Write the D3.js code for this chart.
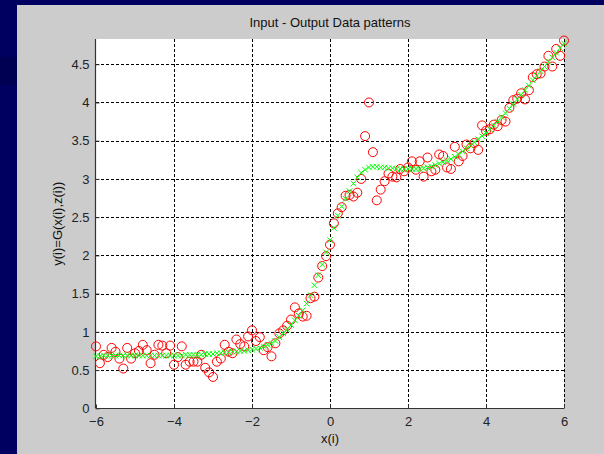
<!DOCTYPE html>
<html>
<head>
<meta charset="utf-8">
<script src="https://cdn.jsdelivr.net/npm/d3@7/dist/d3.min.js"></script>
<style>
  html, body { margin: 0; padding: 0; background: #000060; }
  svg { display: block; }
  text { font-family: "Liberation Sans", Arial, sans-serif; }
</style>
</head>
<body>
<svg id="chart" width="604" height="454"></svg>
<script>
// ---- data ----
const title = "Input - Output Data patterns";
const xLabel = "x(i)";
const yLabel = "y(i)=G(x(i),z(i))";
const xTicks = [-6, -4, -2, 0, 2, 4, 6];
const yTicks = [0, 0.5, 1, 1.5, 2, 2.5, 3, 3.5, 4, 4.5];
const xDomain = [-6, 6];
const yDomain = [0, 4.83];
const xStep = 0.1;
const xSamples = d3.range(121).map(i => +(xDomain[0] + i * xStep).toFixed(2));

// target data (red circles)
const targetValues = [
  0.81, 0.59, 0.70, 0.67, 0.79, 0.74, 0.65, 0.52, 0.79, 0.65,
  0.72, 0.75, 0.83, 0.76, 0.59, 0.70, 0.83, 0.82, 0.72, 0.82,
  0.57, 0.67, 0.81, 0.57, 0.61, 0.61, 0.61, 0.70, 0.53, 0.47,
  0.41, 0.61, 0.65, 0.83, 0.74, 0.72, 0.90, 0.84, 0.81, 0.94,
  1.02, 0.88, 0.93, 0.76, 0.80, 0.68, 0.85, 0.98, 1.02, 1.08,
  1.16, 1.32, 1.24, 1.20, 1.21, 1.44, 1.46, 1.71, 1.86, 1.99,
  2.14, 2.42, 2.55, 2.63, 2.78, 2.79, 2.77, 2.82, 3.00, 3.56,
  4.00, 3.35, 2.72, 2.86, 2.97, 3.07, 3.03, 3.02, 3.13, 3.10,
  3.15, 3.23, 3.12, 3.23, 3.03, 3.28, 3.10, 3.12, 3.32, 3.30,
  3.15, 3.13, 3.42, 3.23, 3.30, 3.45, 3.40, 3.47, 3.38, 3.70,
  3.63, 3.65, 3.71, 3.69, 3.77, 3.75, 3.93, 4.03, 4.05, 4.12,
  4.04, 4.16, 4.33, 4.37, 4.38, 4.47, 4.61, 4.47, 4.70, 4.61,
  4.81
];

// model output (green crosses)
const modelValues = [
  0.68, 0.68, 0.69, 0.69, 0.69, 0.69, 0.69, 0.69, 0.69, 0.69,
  0.69, 0.69, 0.69, 0.69, 0.69, 0.69, 0.69, 0.69, 0.69, 0.69,
  0.69, 0.69, 0.69, 0.70, 0.70, 0.70, 0.70, 0.70, 0.71, 0.71,
  0.71, 0.72, 0.72, 0.73, 0.73, 0.74, 0.74, 0.75, 0.75, 0.76,
  0.77, 0.78, 0.79, 0.81, 0.83, 0.85, 0.88, 0.93, 0.98, 1.03,
  1.09, 1.15, 1.21, 1.28, 1.37, 1.48, 1.61, 1.74, 1.88, 2.04,
  2.20, 2.36, 2.52, 2.64, 2.74, 2.84, 2.94, 3.02, 3.08, 3.12,
  3.15, 3.16, 3.16, 3.15, 3.15, 3.14, 3.14, 3.13, 3.13, 3.13,
  3.13, 3.13, 3.13, 3.13, 3.14, 3.15, 3.16, 3.18, 3.20, 3.22,
  3.24, 3.26, 3.29, 3.32, 3.36, 3.40, 3.44, 3.48, 3.52, 3.56,
  3.60, 3.65, 3.70, 3.75, 3.81, 3.86, 3.92, 3.98, 4.04, 4.10,
  4.16, 4.22, 4.29, 4.35, 4.41, 4.47, 4.53, 4.59, 4.65, 4.71,
  4.77
];

// ---- drawing ----
const W = 604, H = 454;
const plot = { left: 96, right: 564, top: 39, bottom: 408.3 };
const svg = d3.select("#chart");

svg.append("rect").attr("x", 0).attr("y", 0).attr("width", W).attr("height", H).attr("fill", "#000060");
svg.append("rect").attr("x", 0).attr("y", 57).attr("width", 17).attr("height", 28).attr("fill", "#000052");
svg.append("rect").attr("x", 17).attr("y", 5).attr("width", W - 17).attr("height", H - 5).attr("fill", "#cccccc");

const x = d3.scaleLinear().domain(xDomain).range([plot.left, plot.right]);
const y = d3.scaleLinear().domain(yDomain).range([plot.bottom, plot.top]);

svg.append("rect")
  .attr("x", plot.left).attr("y", plot.top)
  .attr("width", plot.right - plot.left).attr("height", plot.bottom - plot.top)
  .attr("fill", "#ffffff");

// grid
const grid = svg.append("g").attr("stroke", "#000").attr("stroke-width", 1)
  .attr("stroke-dasharray", "3,2").attr("shape-rendering", "crispEdges");
grid.selectAll("line.v").data(xTicks.filter(t => t > xDomain[0])).join("line")
  .attr("x1", d => Math.round(x(d)) + 0.5).attr("x2", d => Math.round(x(d)) + 0.5)
  .attr("y1", plot.top).attr("y2", plot.bottom);
grid.selectAll("line.h").data(yTicks.filter(t => t > yDomain[0])).join("line")
  .attr("class", "h")
  .attr("y1", d => Math.round(y(d)) + 0.5).attr("y2", d => Math.round(y(d)) + 0.5)
  .attr("x1", plot.left).attr("x2", plot.right);

// axes
const xAxis = d3.axisBottom(x).tickValues(xTicks).tickSize(-4).tickPadding(8).tickFormat(d3.format("d"));
const yAxis = d3.axisLeft(y).tickValues(yTicks).tickSize(-4).tickPadding(6).tickFormat(d => d);
const gx = svg.append("g").attr("transform", `translate(0,${Math.round(plot.bottom) + 0.5})`).call(xAxis);
const gy = svg.append("g").attr("transform", `translate(${plot.left - 0.5},0)`).call(yAxis);
[gx, gy].forEach(g => {
  g.select(".domain").attr("stroke", "#333").attr("stroke-width", 1.2);
  g.selectAll(".tick line").attr("stroke", "#333");
  g.selectAll("text").attr("fill", "#222").attr("font-size", 13)
    .attr("font-family", '"Liberation Sans", Arial, sans-serif');
});
gx.select(".domain").attr("d", `M${plot.left},0H${plot.right}`);
gy.select(".domain").attr("d", `M0,${plot.bottom}V${plot.top}`);

// series: red circles
const pts = xSamples.map((xv, i) => ({ x: xv, t: targetValues[i], m: modelValues[i] }));
svg.append("g").selectAll("circle").data(pts).join("circle")
  .attr("cx", d => x(d.x)).attr("cy", d => y(d.t)).attr("r", 4.5)
  .attr("fill", "none").attr("stroke", "#ff0000").attr("stroke-width", 1);

// series: green crosses
const s = 2.8;
svg.append("g").selectAll("path").data(pts).join("path")
  .attr("d", d => {
    const cx = x(d.x), cy = y(d.m);
    return `M${cx - s},${cy - s}L${cx + s},${cy + s}M${cx - s},${cy + s}L${cx + s},${cy - s}`;
  })
  .attr("fill", "none").attr("stroke", "#00ff00").attr("stroke-width", 1);

// labels
svg.append("text").attr("x", (plot.left + plot.right) / 2).attr("y", 27)
  .attr("text-anchor", "middle").attr("font-size", 13).attr("fill", "#111").text(title);
svg.append("text").attr("x", (plot.left + plot.right) / 2).attr("y", 443)
  .attr("text-anchor", "middle").attr("font-size", 13).attr("fill", "#111").text(xLabel);
svg.append("text").attr("transform", `translate(62,${(plot.top + plot.bottom) / 2}) rotate(-90)`)
  .attr("text-anchor", "middle").attr("font-size", 13).attr("fill", "#111").text(yLabel);
</script>
</body>
</html>
